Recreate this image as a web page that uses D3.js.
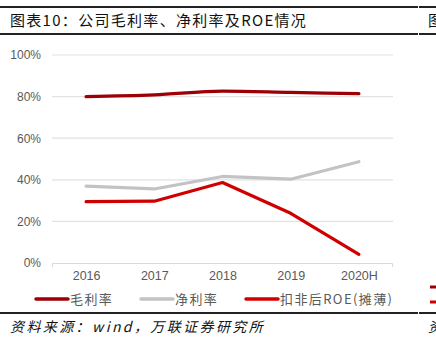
<!DOCTYPE html>
<html><head><meta charset="utf-8">
<script src="https://cdn.jsdelivr.net/npm/d3@7"></script>
<style>body{margin:0;background:#fff}svg{display:block}</style>
</head><body>
<script>
const categories = ["2016","2017","2018","2019","2020H"];
const grossMargin = [80.0, 80.8, 82.6, 82.0, 81.4];
const netMargin = [37.0, 35.6, 41.6, 40.3, 48.7];
const roe = [29.5, 29.7, 38.7, 23.9, 4.2];
const yTicks = [0, 20, 40, 60, 80, 100];
const seriesNames = ["毛利率", "净利率", "扣非后ROE(摊薄)"];
const colors = ["#9c0006", "#c3c3c3", "#d00000"];

const W = 436, H = 348;
const svg = d3.select("body").append("svg").attr("width", W).attr("height", H);
const cjk = "'Noto Sans CJK SC', 'Noto Sans', sans-serif";

// header lines
svg.append("rect").attr("x",0).attr("y",6).attr("width",W).attr("height",2).attr("fill","#222");
svg.append("rect").attr("x",0).attr("y",33).attr("width",W).attr("height",2).attr("fill","#222");
svg.append("rect").attr("x",0).attr("y",312).attr("width",W).attr("height",2).attr("fill","#222");
svg.append("rect").attr("x",418).attr("y",6).attr("width",1).attr("height",2).attr("fill","#fff");
svg.append("rect").attr("x",418).attr("y",33).attr("width",1).attr("height",2).attr("fill","#fff");
svg.append("rect").attr("x",418).attr("y",312).attr("width",1).attr("height",2).attr("fill","#fff");

svg.append("text").attr("x",10).attr("y",26).attr("font-family",cjk).attr("font-size",15)
  .attr("letter-spacing","1.3px").attr("fill","#111").text("图表10：公司毛利率、净利率及ROE情况");
svg.append("text").attr("x",428).attr("y",26).attr("font-family",cjk).attr("font-size",15).attr("fill","#111").text("图");

svg.append("text").attr("x",10).attr("y",332).attr("font-family",cjk).attr("font-size",14)
  .attr("font-style","italic").attr("letter-spacing","2.4px").attr("fill","#111").text("资料来源：wind，万联证券研究所");
svg.append("text").attr("x",428).attr("y",332).attr("font-family",cjk).attr("font-size",14)
  .attr("font-style","italic").attr("fill","#111").text("资");

const x = d3.scalePoint().domain(categories).range([52, 393]).padding(0.5);
const y = d3.scaleLinear().domain([0, 100]).range([263, 55]);

// grid
svg.append("g").selectAll("line").data(yTicks.filter(d=>d>0)).join("line")
  .attr("x1",52).attr("x2",393).attr("y1",d=>y(d)).attr("y2",d=>y(d))
  .attr("stroke","#e2e2e2").attr("stroke-width",1.2);

// y axis labels
const yAxis = svg.append("g").attr("transform","translate(41,0)")
  .call(d3.axisLeft(y).tickValues(yTicks).tickFormat(d=>d+"%").tickSize(0).tickPadding(0));
yAxis.select(".domain").remove();
yAxis.selectAll("text").attr("font-family","'Liberation Sans', Arial, sans-serif").attr("font-size",12).attr("fill","#595959");

// x axis
const xAxis = svg.append("g").attr("transform","translate(0,263)")
  .call(d3.axisBottom(x).tickSize(0).tickPadding(8));
xAxis.select(".domain").attr("d","M52.5,4V0.5H392.5V4").attr("stroke","#d9d9d9").attr("fill","none");
xAxis.selectAll("text").attr("font-family","'Liberation Sans', Arial, sans-serif").attr("font-size",12.5).attr("fill","#595959");

const data = [grossMargin, netMargin, roe];
const curves = [d3.curveMonotoneX, d3.curveLinear, d3.curveLinear];
data.forEach((vals,i)=>{
  const line = d3.line().x((d,j)=>x(categories[j])).y(d=>y(d)).curve(curves[i]);
  svg.append("path").datum(vals).attr("d",line).attr("fill","none")
    .attr("stroke",colors[i]).attr("stroke-width",3.2).attr("stroke-linecap","round").attr("stroke-linejoin","round");
});

// legend
const legX = [36, 141, 246];
const lg = svg.append("g");
seriesNames.forEach((n,i)=>{
  lg.append("line").attr("x1",legX[i]).attr("x2",legX[i]+32).attr("y1",299).attr("y2",299)
    .attr("stroke",colors[i]).attr("stroke-width",3.5).attr("stroke-linecap","round");
  lg.append("text").attr("x",legX[i]+34).attr("y",304).attr("font-family",cjk).attr("font-size",13)
    .attr("letter-spacing","1.4px").attr("fill","#595959").text(n);
});
// partial legend from neighbouring chart
lg.append("line").attr("x1",430).attr("x2",437).attr("y1",287).attr("y2",287).attr("stroke",colors[0]).attr("stroke-width",3);
lg.append("line").attr("x1",430).attr("x2",437).attr("y1",302).attr("y2",302).attr("stroke",colors[2]).attr("stroke-width",3);
</script>
</body></html>
